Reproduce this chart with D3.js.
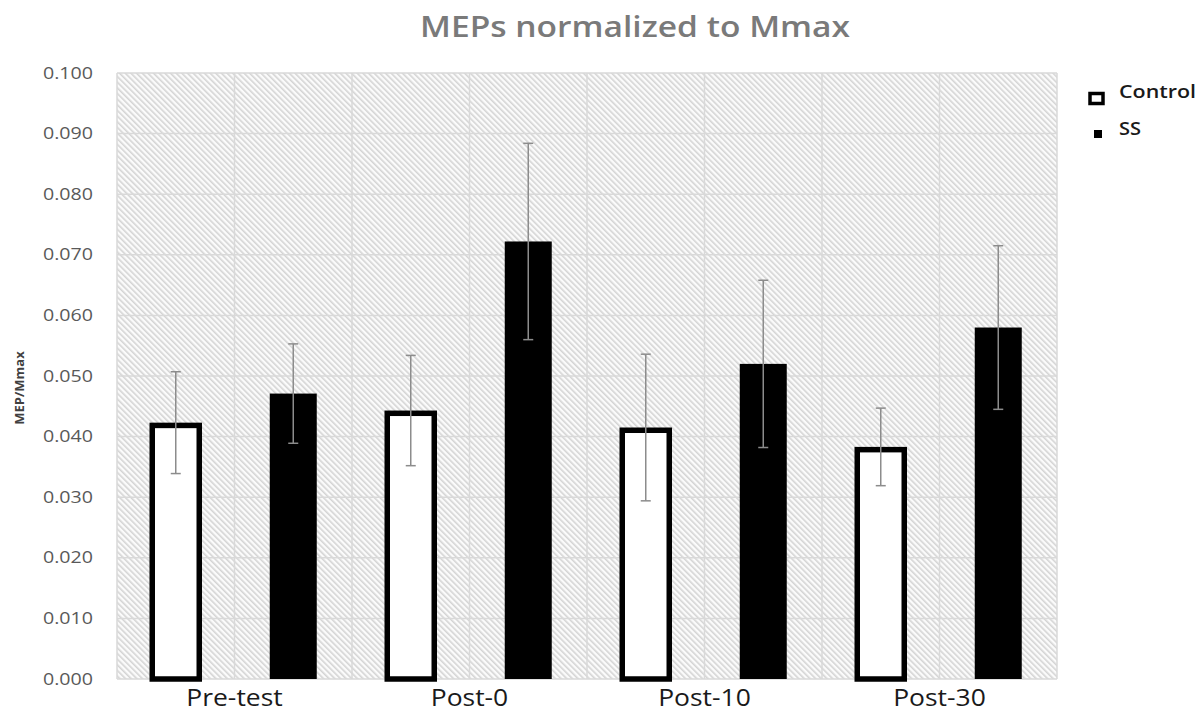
<!DOCTYPE html>
<html>
<head>
<meta charset="utf-8">
<script src="https://cdn.jsdelivr.net/npm/d3@7"></script>
<style>
  body { margin: 0; background: #fff; }
  svg { display: block; font-family: "Open Sans", sans-serif; }
</style>
</head>
<body>
<svg id="chart"></svg>
<script>
const categories = ["Pre-test", "Post-0", "Post-10", "Post-30"];
const groups = ["Control", "SS"];
const controlMeans = [0.0423, 0.0443, 0.0415, 0.0383];
const controlErr = [0.0084, 0.0091, 0.0121, 0.0064];
const ssMeans = [0.0471, 0.0722, 0.0520, 0.0580];
const ssErr = [0.0082, 0.0162, 0.0138, 0.0135];
const yTicks = [0, 0.01, 0.02, 0.03, 0.04, 0.05, 0.06, 0.07, 0.08, 0.09, 0.1];

const width = 1203;
const height = 712;
const margin = { top: 73, right: 146, bottom: 33, left: 117 };

const svg = d3.select("#chart")
    .attr("width", width)
    .attr("height", height);

// the original font is wider than Open Sans, so stretch glyphs a bit
function widen(sel, k) {
  sel.each(function() {
    const w = this.getComputedTextLength();
    d3.select(this).attr("textLength", w * k).attr("lengthAdjust", "spacingAndGlyphs");
  });
}

// diagonal hatch fill of the plot area
const defs = svg.append("defs");
const pat = defs.append("pattern")
    .attr("id", "hatch")
    .attr("patternUnits", "userSpaceOnUse")
    .attr("width", 4)
    .attr("height", 4)
    .attr("patternTransform", "rotate(-45)");
pat.append("rect").attr("width", 4).attr("height", 4).attr("fill", "#fbfbfb");
pat.append("rect").attr("width", 1.6).attr("height", 4).attr("fill", "#d4d4d4");

const x0 = d3.scaleBand()
    .domain(categories)
    .range([margin.left, width - margin.right])
    .padding(0);

const x1 = d3.scaleBand()
    .domain(groups)
    .range([0, x0.bandwidth()])
    .paddingInner(0.6)
    .paddingOuter(0.3);

const y = d3.scaleLinear()
    .domain([0, 0.1])
    .range([height - margin.bottom, margin.top]);

svg.append("rect")
    .attr("x", margin.left)
    .attr("y", margin.top)
    .attr("width", width - margin.left - margin.right)
    .attr("height", y(0) - margin.top)
    .attr("fill", "url(#hatch)");

// gridlines
svg.append("g")
    .attr("stroke", "#d9d9d9")
    .attr("stroke-width", 1.5)
  .selectAll("line")
  .data(yTicks)
  .enter().append("line")
    .attr("x1", margin.left)
    .attr("x2", width - margin.right)
    .attr("y1", d => y(d))
    .attr("y2", d => y(d));

const vlines = [];
categories.forEach(c => { vlines.push(x0(c)); vlines.push(x0(c) + x0.bandwidth() / 2); });
vlines.push(width - margin.right);
svg.append("g")
    .attr("stroke", "#d9d9d9")
    .attr("stroke-width", 1.5)
  .selectAll("line")
  .data(vlines)
  .enter().append("line")
    .attr("x1", d => d)
    .attr("x2", d => d)
    .attr("y1", margin.top)
    .attr("y2", y(0));

// y axis labels
const yAxis = svg.append("g")
    .attr("transform", `translate(${margin.left},0)`)
    .call(d3.axisLeft(y).tickValues(yTicks).tickFormat(d3.format(".3f")).tickSize(0).tickPadding(24));
yAxis.select(".domain").remove();
yAxis.selectAll("text")
    .attr("fill", "#595959")
    .attr("font-size", "16px")
    .attr("font-family", "Open Sans, sans-serif")
    .attr("textLength", 50)
    .attr("lengthAdjust", "spacingAndGlyphs");

svg.append("text")
    .attr("transform", `translate(24,${(margin.top + y(0)) / 2 + 12}) rotate(-90)`)
    .attr("text-anchor", "middle")
    .attr("font-size", "13px")
    .attr("font-weight", "bold")
    .attr("fill", "#404040")
    .text("MEP/Mmax");

// x labels
svg.append("g")
  .selectAll("text")
  .data(categories)
  .enter().append("text")
    .attr("x", d => x0(d) + x0.bandwidth() / 2)
    .attr("y", 706)
    .attr("text-anchor", "middle")
    .attr("font-size", "23px")
    .attr("fill", "#1a1a1a")
    .text(d => d)
    .call(widen, 1.15);

// bars
const rows = categories.map((c, i) => ({
  cat: c,
  vals: [
    { key: "Control", v: controlMeans[i], e: controlErr[i] },
    { key: "SS", v: ssMeans[i], e: ssErr[i] }
  ]
}));

const cat = svg.append("g")
  .selectAll("g")
  .data(rows)
  .enter().append("g")
    .attr("transform", d => `translate(${x0(d.cat)},0)`);

cat.selectAll("rect")
  .data(d => d.vals)
  .enter().append("rect")
    .attr("x", d => x1(d.key))
    .attr("width", x1.bandwidth())
    .attr("y", d => y(d.v) + (d.key === "Control" ? 2.75 : 0))
    .attr("height", d => y(0) - y(d.v) - (d.key === "Control" ? 2.75 : 0))
    .attr("fill", d => d.key === "Control" ? "#ffffff" : "#000000")
    .attr("stroke", d => d.key === "Control" ? "#000" : "none")
    .attr("stroke-width", 5.5);

// error bars
const eb = cat.selectAll("g.err")
  .data(d => d.vals)
  .enter().append("g")
    .attr("class", "err")
    .attr("stroke", "#8c8c8c")
    .attr("stroke-width", 1.5);
eb.append("line")
    .attr("x1", d => x1(d.key) + x1.bandwidth() / 2)
    .attr("x2", d => x1(d.key) + x1.bandwidth() / 2)
    .attr("y1", d => y(d.v + d.e))
    .attr("y2", d => y(d.v - d.e));
eb.selectAll("line.cap")
  .data(d => [d.v + d.e, d.v - d.e].map(t => ({ t, key: d.key })))
  .enter().append("line")
    .attr("class", "cap")
    .attr("x1", d => x1(d.key) + x1.bandwidth() / 2 - 5)
    .attr("x2", d => x1(d.key) + x1.bandwidth() / 2 + 5)
    .attr("y1", d => y(d.t))
    .attr("y2", d => y(d.t));

// title
svg.append("text")
    .attr("x", 635)
    .attr("y", 37)
    .attr("text-anchor", "middle")
    .attr("font-size", "29px")
    .attr("font-weight", 600)
    .attr("fill", "#7a7a7a")
    .attr("textLength", 430)
    .attr("lengthAdjust", "spacingAndGlyphs")
    .text("MEPs normalized to Mmax");

// legend
const leg = svg.append("g");
leg.append("rect")
    .attr("x", 1090).attr("y", 93.5)
    .attr("width", 13).attr("height", 10)
    .attr("fill", "#fff").attr("stroke", "#000").attr("stroke-width", 3.5);
leg.append("rect")
    .attr("x", 1094).attr("y", 130)
    .attr("width", 8).attr("height", 8)
    .attr("fill", "#000");
leg.selectAll("text")
  .data(groups)
  .enter().append("text")
    .attr("x", 1119)
    .attr("y", (d, i) => 98 + i * 37)
    .attr("font-size", "18px")
    .attr("font-weight", 600)
    .attr("fill", "#1a1a1a")
    .attr("textLength", (d, i) => i === 0 ? 77 : 22)
    .attr("lengthAdjust", "spacingAndGlyphs")
    .text(d => d);
</script>
</body>
</html>
